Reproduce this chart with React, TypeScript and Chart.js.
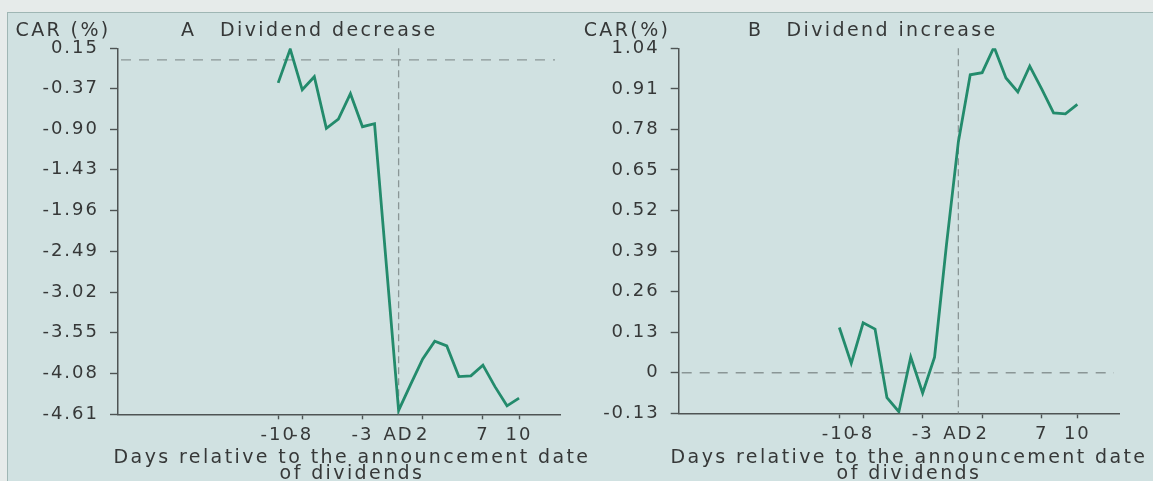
import React, { useEffect, useRef } from 'react';
import { Chart, registerables } from 'chart.js';

Chart.register(...registerables);

// ---------- data ----------
const days = [-10, -9, -8, -7, -6, -5, -4, -3, -2, -1, 0, 1, 2, 3, 4, 5, 6, 7, 8, 9, 10];
const carDecrease = [-0.3, 0.14, -0.39, -0.22, -0.89, -0.77, -0.44, -0.87, -0.83, -2.7, -4.56, -4.22, -3.89, -3.66, -3.72, -4.12, -4.11, -3.97, -4.25, -4.5, -4.4];
const carIncrease = [0.145, 0.03, 0.16, 0.14, -0.08, -0.125, 0.05, -0.065, 0.05, 0.41, 0.74, 0.955, 0.962, 1.044, 0.945, 0.9, 0.983, 0.91, 0.833, 0.83, 0.86];

const xTickValues = [-10, -8, -3, 0, 2, 7, 10];
const xTickLabels = ['-10', '-8', '-3', 'AD', '2', '7', '10'];
const yTicksDecrease = [0.15, -0.37, -0.9, -1.43, -1.96, -2.49, -3.02, -3.55, -4.08, -4.61];
const yTicksIncrease = [1.04, 0.91, 0.78, 0.65, 0.52, 0.39, 0.26, 0.13, 0, -0.13];

const yLabelA = 'CAR (%)';
const yLabelB = 'CAR(%)';
const panelLetterA = 'A';
const panelLetterB = 'B';
const panelTitleA = 'Dividend decrease';
const panelTitleB = 'Dividend increase';
const xTitleLines = ['Days relative to the announcement date', 'of dividends'];

// ---------- styles ----------
const FONT = '"DejaVu Sans", "Open Sans", sans-serif';
const TEXT = '#363838';
const AXIS = '#4e5454';
const LINE = '#238b6c';
const DASH = '#8a9696';
const PANEL_BG = '#d0e1e1';
const PAPER_BG = '#e6ebea';
const TICK_SPACING = '2px';

const letterSpacingPlugin = {
  id: 'letterSpacing',
  beforeUpdate(chart: any) {
    chart.ctx.letterSpacing = TICK_SPACING;
  },
  beforeLayout(chart: any) {
    chart.ctx.letterSpacing = TICK_SPACING;
  },
  beforeDraw(chart: any) {
    chart.ctx.letterSpacing = TICK_SPACING;
  },
};

const refLinesPlugin = {
  id: 'refLines',
  beforeDatasetsDraw(chart: any) {
    const { ctx, chartArea, scales } = chart;
    const { left, right, top, bottom } = chartArea;
    ctx.save();
    ctx.strokeStyle = DASH;
    ctx.lineWidth = 1.3;
    ctx.setLineDash([10, 8]);
    const y0 = scales.y.getPixelForValue(0);
    ctx.beginPath();
    ctx.moveTo(left + 3, y0);
    ctx.lineTo(right - 5, y0);
    ctx.stroke();
    ctx.setLineDash([7, 4]);
    const x0 = scales.x.getPixelForValue(0);
    ctx.beginPath();
    ctx.moveTo(x0, top);
    ctx.lineTo(x0, bottom);
    ctx.stroke();
    ctx.restore();
  },
};

type PanelCfg = {
  values: number[];
  yTicks: number[];
  yMin: number;
  yMax: number;
  xMin: number;
  xMax: number;
  yAxisW: number;
  padRight: number;
  padTop: number;
  padBottom: number;
};

function makeConfig(p: PanelCfg): any {
  return {
    type: 'line',
    data: {
      datasets: [
        {
          data: days.map((d, i) => ({ x: d, y: p.values[i] })),
          borderColor: LINE,
          borderWidth: 2.8,
          pointRadius: 0,
          tension: 0,
          fill: false,
          borderJoinStyle: 'miter',
        },
      ],
    },
    options: {
      animation: false,
      responsive: false,
      devicePixelRatio: 1,
      layout: { padding: { left: 0, right: p.padRight, top: p.padTop, bottom: p.padBottom } },
      plugins: { legend: { display: false }, tooltip: { enabled: false }, title: { display: false } },
      scales: {
        x: {
          type: 'linear',
          min: p.xMin,
          max: p.xMax,
          afterBuildTicks: (s: any) => {
            s.ticks = xTickValues.map((v) => ({ value: v }));
          },
          afterFit: (s: any) => {
            s.height = 30;
          },
          grid: {
            display: true,
            drawOnChartArea: false,
            drawTicks: true,
            tickLength: 5,
            tickWidth: 1.4,
            tickColor: (c: any) => (c.tick && c.tick.value === 0 ? 'rgba(0,0,0,0)' : AXIS),
          },
          border: { display: true, color: AXIS, width: 1.5 },
          ticks: {
            autoSkip: false,
            maxRotation: 0,
            minRotation: 0,
            padding: 5,
            color: TEXT,
            font: { family: FONT, size: 18 },
            callback: (v: any) => {
              const i = xTickValues.indexOf(Number(v));
              return i >= 0 ? xTickLabels[i] : '';
            },
          },
        },
        y: {
          type: 'linear',
          min: p.yMin,
          max: p.yMax,
          afterBuildTicks: (s: any) => {
            s.ticks = p.yTicks.map((v) => ({ value: v }));
          },
          afterFit: (s: any) => {
            s.width = p.yAxisW;
          },
          grid: {
            display: true,
            drawOnChartArea: false,
            drawTicks: true,
            tickLength: 8,
            tickWidth: 1.4,
            tickColor: AXIS,
          },
          border: { display: true, color: AXIS, width: 1.5 },
          ticks: {
            autoSkip: false,
            padding: 11,
            color: TEXT,
            font: { family: FONT, size: 18 },
            callback: (v: any) => (Number(v) === 0 ? '0' : Number(v).toFixed(2)),
          },
        },
      },
    },
    plugins: [letterSpacingPlugin, refLinesPlugin],
  };
}

const textStyle: React.CSSProperties = {
  position: 'absolute',
  fontFamily: FONT,
  fontSize: 19,
  lineHeight: '19px',
  letterSpacing: '2.4px',
  color: TEXT,
  whiteSpace: 'nowrap',
};

function TopText({ left, text }: { left: number; text: string }) {
  return <div style={{ ...textStyle, left, top: 19.9 }}>{text}</div>;
}

function XTitle({ cx }: { cx: number }) {
  return (
    <div
      style={{
        ...textStyle,
        left: cx - 300,
        width: 600,
        top: 448,
        lineHeight: '16.3px',
        textAlign: 'center',
      }}
    >
      {xTitleLines[0]}
      <br />
      {xTitleLines[1]}
    </div>
  );
}

export default function App() {
  const refA = useRef<HTMLCanvasElement>(null);
  const refB = useRef<HTMLCanvasElement>(null);

  useEffect(() => {
    const a = new Chart(
      refA.current as HTMLCanvasElement,
      makeConfig({
        values: carDecrease,
        yTicks: yTicksDecrease,
        yMin: -4.61,
        yMax: 0.15,
        xMin: -23.3,
        xMax: 13.4,
        yAxisW: 118,
        padRight: 20,
        padTop: 48.3,
        padBottom: 36.7,
      })
    );
    const b = new Chart(
      refB.current as HTMLCanvasElement,
      makeConfig({
        values: carIncrease,
        yTicks: yTicksIncrease,
        yMin: -0.13,
        yMax: 1.04,
        xMin: -23.5,
        xMax: 13.5,
        yAxisW: 98.7,
        padRight: 34,
        padTop: 48.3,
        padBottom: 37.7,
      })
    );
    return () => {
      a.destroy();
      b.destroy();
    };
  }, []);

  return (
    <div
      style={{
        position: 'absolute',
        left: 0,
        top: 0,
        width: 1153,
        height: 481,
        overflow: 'hidden',
        background: PAPER_BG,
      }}
    >
      <div
        style={{
          position: 'absolute',
          left: 7,
          top: 12,
          width: 1160,
          height: 480,
          background: PANEL_BG,
          borderTop: '1.5px solid #9fb6b4',
          borderLeft: '1.5px solid #9fb6b4',
        }}
      />
      <canvas ref={refA} width={580} height={481} style={{ position: 'absolute', left: 0, top: 0 }} />
      <canvas ref={refB} width={573} height={481} style={{ position: 'absolute', left: 580, top: 0 }} />
      <TopText left={15.5} text={yLabelA} />
      <TopText left={181} text={panelLetterA} />
      <TopText left={220} text={panelTitleA} />
      <TopText left={583.7} text={yLabelB} />
      <TopText left={748} text={panelLetterB} />
      <TopText left={786.5} text={panelTitleB} />
      <XTitle cx={352} />
      <XTitle cx={909} />
    </div>
  );
}
